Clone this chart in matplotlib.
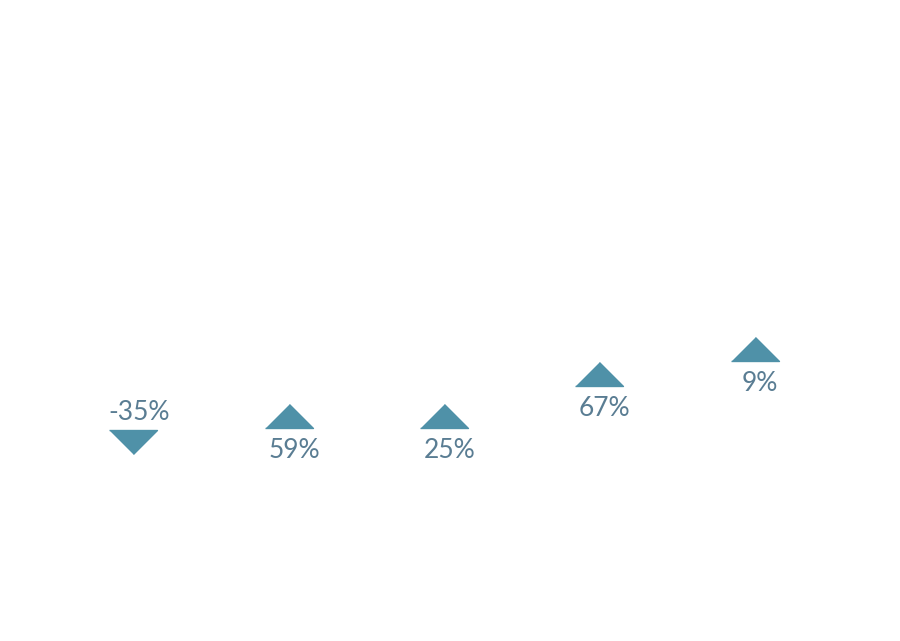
import matplotlib.pyplot as plt

categorias = ['A', 'B', 'C', 'D', 'E']
niveis = [31.0, 35.1, 35.1, 41.7, 45.6]
variacao = [-35, 59, 25, 67, 9]

cor_marca = '#4f91a8'
cor_texto = '#5a7d93'

fig = plt.figure(figsize=(9, 6.41), dpi=100)
ax = fig.add_axes([0, 0, 1, 1])
ax.set_xlim(-0.857, 4.935)
ax.set_ylim(0, 100)
ax.axis('off')

# triangulos achatados (largura 2x altura)
seta_cima = [(-1, -0.5), (1, -0.5), (0, 0.5)]
seta_baixo = [(-1, 0.5), (1, 0.5), (0, -0.5)]

for i, (y, v) in enumerate(zip(niveis, variacao)):
    if v < 0:
        ax.plot(i, y, marker=seta_baixo, markersize=34.5, color=cor_marca, linestyle='none')
        ax.annotate(f"{v}%", (i, y), xytext=(4, 21.5), textcoords='offset points',
                    ha='center', va='center', fontsize=19, color=cor_texto, family='Lato')
    else:
        ax.plot(i, y, marker=seta_cima, markersize=34.5, color=cor_marca, linestyle='none')
        ax.annotate(f"{v}%", (i, y), xytext=(4, -25), textcoords='offset points',
                    ha='center', va='center', fontsize=19, color=cor_texto, family='Lato')

fig.savefig('out.png', dpi=100)
